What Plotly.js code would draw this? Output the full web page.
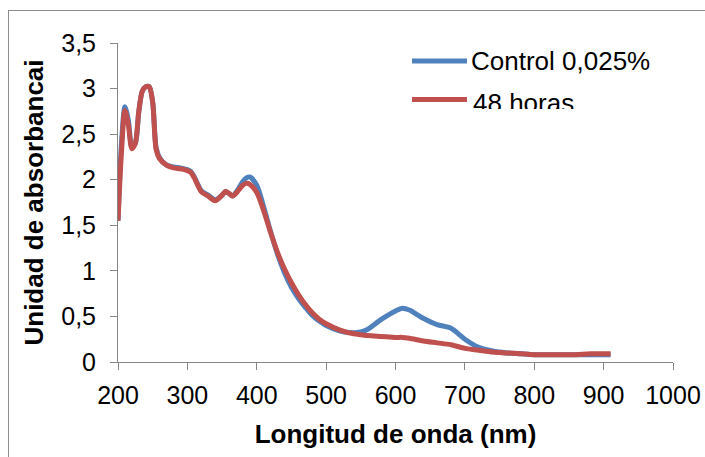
<!DOCTYPE html>
<html>
<head>
<meta charset="utf-8">
<script src="https://cdn.plot.ly/plotly-3.0.1.min.js"></script>
<style>
  html, body { margin: 0; padding: 0; background: #fff; }
  #wrap { position: relative; width: 705px; height: 457px; overflow: hidden; }
  #chart { position: absolute; left: 0; top: 0; width: 705px; height: 457px; }
  #frame { position: absolute; left: 8px; top: 10px; width: 760px; height: 500px;
           border: 1px solid #8c8c8c; pointer-events: none; }
  #legendclip { position: absolute; left: 468px; top: 109px; width: 130px; height: 14px; background: #fff; }
</style>
</head>
<body>
<div id="wrap">
  <div id="chart"></div>
  <div id="frame"></div>
  <div id="legendclip"></div>
</div>
<script>
// Wavelength (nm)
const wavelength = [200, 205, 210, 215, 220, 225, 230, 235, 240, 245, 250, 255, 260, 270, 280, 290, 300, 305, 310, 320, 330, 340, 350, 355, 360, 365, 370, 380, 385, 390, 400, 410, 420, 430, 440, 450, 460, 470, 480, 490, 500, 520, 540, 550, 560, 580, 600, 610, 620, 640, 660, 680, 700, 720, 740, 760, 780, 800, 820, 840, 860, 880, 900, 910];

// Absorbance, control 0,025%
const control = [1.55, 2.40, 2.80, 2.65, 2.36, 2.40, 2.75, 2.97, 3.02, 3.02, 2.85, 2.35, 2.24, 2.16, 2.14, 2.13, 2.11, 2.09, 2.03, 1.88, 1.83, 1.78, 1.83, 1.87, 1.85, 1.82, 1.86, 1.98, 2.02, 2.03, 1.94, 1.70, 1.43, 1.18, 0.98, 0.82, 0.70, 0.60, 0.51, 0.45, 0.40, 0.34, 0.32, 0.33, 0.36, 0.47, 0.56, 0.59, 0.57, 0.48, 0.41, 0.37, 0.25, 0.16, 0.12, 0.10, 0.09, 0.08, 0.08, 0.08, 0.08, 0.08, 0.08, 0.08];

// Absorbance after 48 hours
const horas48 = [1.55, 2.30, 2.76, 2.60, 2.34, 2.40, 2.75, 2.97, 3.02, 3.02, 2.85, 2.33, 2.23, 2.16, 2.13, 2.12, 2.10, 2.08, 2.02, 1.87, 1.82, 1.77, 1.83, 1.87, 1.85, 1.82, 1.85, 1.94, 1.96, 1.95, 1.86, 1.66, 1.42, 1.20, 1.02, 0.87, 0.74, 0.63, 0.54, 0.47, 0.42, 0.35, 0.31, 0.30, 0.29, 0.28, 0.27, 0.27, 0.26, 0.23, 0.21, 0.19, 0.15, 0.13, 0.11, 0.10, 0.09, 0.08, 0.08, 0.08, 0.08, 0.09, 0.09, 0.09];

const seriesNames = ['Control 0,025%', '48 horas'];
const xTicks = [200, 300, 400, 500, 600, 700, 800, 900, 1000];
const yTicks = [0, 0.5, 1, 1.5, 2, 2.5, 3, 3.5];

const BLUE = '#4F81BD';
const RED = '#C0504D';
const AXIS = '#868686';
const FONT = 'Arial, "Liberation Sans", sans-serif';

// plot area in pixels
const W = 705, H = 457;
const M = { l: 118, r: 32, t: 43, b: 95 };
const pw = W - M.l - M.r, ph = H - M.t - M.b;
const px = x => (x - M.l) / pw;
const py = y => (H - M.b - y) / ph;

const lineTrace = (y, name, color) => ({
  x: wavelength, y: y, name: name, type: 'scatter', mode: 'lines',
  line: { color: color, width: 5, shape: 'spline', smoothing: 0.8 },
  hoverinfo: 'x+y'
});

const data = [
  lineTrace(control, seriesNames[0], BLUE),
  lineTrace(horas48, seriesNames[1], RED)
];

// hand-drawn legend: colour stroke plus label
const legendRows = [
  { y: 61, color: BLUE, label: seriesNames[0] },
  { y: 99.5, color: RED, label: seriesNames[1] }
];

const shapes = legendRows.map(r => ({
  type: 'line', xref: 'paper', yref: 'paper',
  x0: px(412), x1: px(467), y0: py(r.y), y1: py(r.y),
  line: { color: r.color, width: 5 }
}));

const annotations = [
  { text: seriesNames[0], x: px(469), y: py(61), xanchor: 'left', yanchor: 'middle' },
  { text: seriesNames[1], x: px(471), y: py(103), xanchor: 'left', yanchor: 'middle' }
].map(a => Object.assign({ xref: 'paper', yref: 'paper', showarrow: false,
  font: { family: FONT, size: 26, color: '#000' } }, a));

const axisCommon = {
  showline: true, linecolor: AXIS, linewidth: 1,
  ticks: 'outside', ticklen: 7, tickcolor: AXIS, tickwidth: 1,
  showgrid: false, zeroline: false, tickmode: 'array',
  tickfont: { family: FONT, size: 25, color: '#000' }
};

const layout = {
  width: W, height: H,
  margin: M,
  paper_bgcolor: '#fff', plot_bgcolor: '#fff',
  separators: ',.',
  showlegend: false,
  xaxis: Object.assign({}, axisCommon, {
    range: [200, 1000], tickvals: xTicks, ticktext: xTicks.map(String),
    ticklabelstandoff: 4,
    title: { text: '<b>Longitud de onda (nm)</b>', standoff: 16,
             font: { family: FONT, size: 26, color: '#000' } }
  }),
  yaxis: Object.assign({}, axisCommon, {
    range: [0, 3.5], tickvals: yTicks, ticktext: yTicks.map(v => String(v).replace('.', ',')),
    ticklabelstandoff: 9,
    title: { text: '<b>Unidad de absorbancai</b>', standoff: 10,
             font: { family: FONT, size: 26, color: '#000' } }
  }),
  shapes: shapes,
  annotations: annotations
};

Plotly.newPlot('chart', data, layout, { displayModeBar: false, staticPlot: true });
</script>
</body>
</html>
